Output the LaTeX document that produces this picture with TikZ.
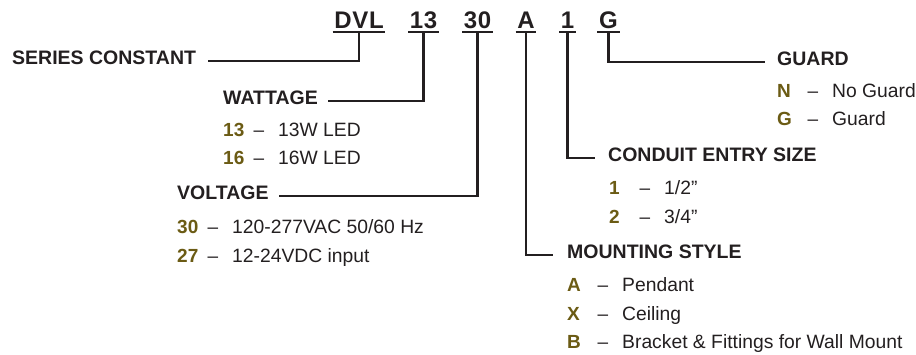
\documentclass[tikz,border=0pt]{standalone}
\usepackage{fontspec}
\setmainfont{Liberation Sans}
\newfontfamily\codefont[LetterSpace=3]{Liberation Sans}
\definecolor{ink}{RGB}{35,31,32}
\definecolor{olive}{RGB}{107,91,20}
\tikzset{
  codet/.style={anchor=base, inner xsep=1.5pt, inner ysep=0pt, text=ink, font=\codefont\fontsize{24}{28}\selectfont\bfseries},
  headt/.style={inner sep=0pt, text height=0.72em, text depth=0pt, text=ink, font=\fontsize{19.5}{22}\selectfont\bfseries},
  keyt/.style={anchor=base west, inner sep=0pt, text=olive, font=\fontsize{19}{22}\selectfont\bfseries},
  dasht/.style={anchor=base, inner sep=0pt, text=ink, font=\fontsize{19}{22}\selectfont},
  desct/.style={anchor=base west, inner sep=0pt, text=ink, font=\fontsize{19.3}{22}\selectfont},
  uline/.style={draw=ink, line width=2pt},
  conn/.style={draw=ink, line width=2.4pt}
}
\newcommand\optrow[5]{%
  \node[keyt] (#1k) at (#2,#3) {#4};
  \node[dasht] (#1d) at ({#2+36},#3) {–};
  \node[desct] (#1t) at ({#2+55},#3) {#5};
}
\begin{document}
\begin{tikzpicture}[x=1pt,y=-1pt]
\useasboundingbox (0,0) rectangle (916,354);
% codes
\node[codet] (dvl) at (359,28) {DVL};
\node[codet] (c13) at (423.5,28) {13};
\node[codet] (c30) at (477.5,28) {30};
\node[codet] (cA) at (526,28) {A};
\node[codet] (c1) at (567.5,28) {1};
\node[codet] (cG) at (608.5,28) {G};
\foreach \n in {dvl,c13,c30,cA,c1,cG}{
  \draw[uline] ([yshift=-4pt]\n.base west) -- ([yshift=-4pt]\n.base east);
}
% headings
\node[headt, anchor=west] (series) at (12,61) {SERIES CONSTANT};
\node[headt, anchor=west] (guard) at (777,62) {GUARD};
\node[headt, anchor=west] (watt) at (223,101) {WATTAGE};
\node[headt, anchor=west] (cond) at (608,158) {CONDUIT ENTRY SIZE};
\node[headt, anchor=west] (volt) at (177,196) {VOLTAGE};
\node[headt, anchor=west] (mount) at (567,255) {MOUNTING STYLE};
% connectors
\draw[conn] ([yshift=-4pt]dvl.base) |- ([xshift=12pt]series.east);
\draw[conn] ([yshift=-4pt]cG.base) |- ([xshift=-12pt]guard.west);
\draw[conn] ([yshift=-4pt]c13.base) |- ([xshift=10pt]watt.east);
\draw[conn] ([yshift=-4pt]c1.base) |- ([xshift=-13pt]cond.west);
\draw[conn] ([yshift=-4pt]c30.base) |- ([xshift=10pt]volt.east);
\draw[conn] ([yshift=-4pt]cA.base) |- ([xshift=-14pt]mount.west);
% options
\optrow{gN}{777}{97}{N}{No Guard}
\optrow{gG}{777}{125}{G}{Guard}
\optrow{w13}{223}{136}{13}{13W LED}
\optrow{w16}{223}{164}{16}{16W LED}
\optrow{s1}{609}{194}{1}{1/2”}
\optrow{s2}{609}{223}{2}{3/4”}
\optrow{v30}{177}{233}{30}{120-277VAC 50/60 Hz}
\optrow{v27}{177}{262}{27}{12-24VDC input}
\optrow{mA}{567}{291}{A}{Pendant}
\optrow{mX}{567}{320}{X}{Ceiling}
\optrow{mB}{567}{348}{B}{Bracket \& Fittings for Wall Mount}
\end{tikzpicture}
\end{document}
